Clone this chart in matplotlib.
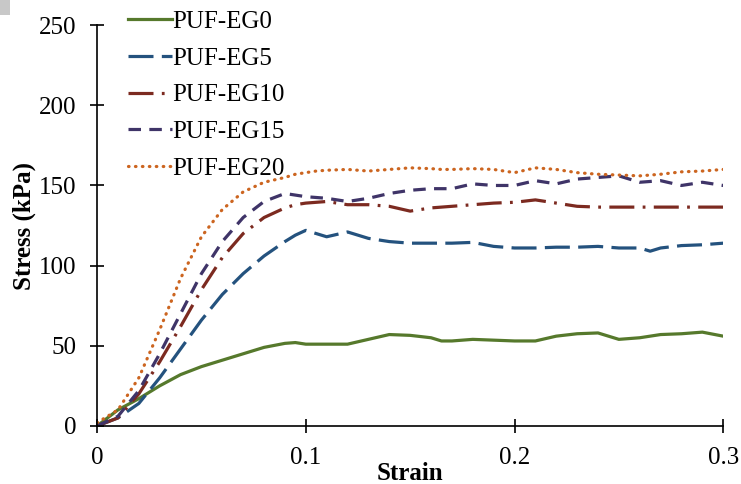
import matplotlib
matplotlib.use("Agg")
from matplotlib import pyplot as plt
from matplotlib.patches import Rectangle

# Data (strain vs stress in kPa)
strain = [0.0, 0.01, 0.02, 0.03, 0.04, 0.05, 0.06, 0.07, 0.08, 0.09, 0.095, 0.1, 0.105,
          0.11, 0.12, 0.13, 0.14, 0.15, 0.16, 0.165, 0.17, 0.18, 0.19, 0.2, 0.21, 0.22,
          0.23, 0.24, 0.25, 0.26, 0.265, 0.27, 0.28, 0.29, 0.3]

eg0 = [0, 10, 17, 25, 32, 37, 41, 45, 49, 51.5, 52, 51, 51,
       51, 51, 54, 57, 56.5, 55, 53, 53, 54, 53.5, 53, 53, 56,
       57.5, 58, 54, 55, 56, 57, 57.5, 58.5, 56]
eg5 = [0, 5, 14, 30, 48, 66, 82, 95, 106, 115, 119, 122, 120,
       118, 121, 117, 115, 114, 114, 114, 114, 114.5, 112, 111, 111, 111.5,
       111.5, 112, 111, 111, 109, 111, 112.5, 113, 114]
eg10 = [0, 5, 20, 40, 62, 85, 105, 120, 130, 136, 138, 139, 139.5,
        140, 138, 138, 137, 134, 136, 136.5, 137, 138, 139, 139.5, 141, 139,
        137, 136.5, 136.5, 136.5, 136.5, 136.5, 136.5, 136.5, 136.5]
eg15 = [0, 6, 22, 45, 70, 95, 115, 130, 140, 145, 144, 143, 142.5,
        142, 140, 142, 145, 147, 148, 148, 148, 151, 150, 150, 153, 151,
        154, 155, 156, 152, 152.5, 153, 150, 152, 150]
eg20 = [2, 10, 30, 60, 92, 118, 135, 146, 152, 155, 157, 158, 159,
        159.5, 160, 159, 160, 161, 160.5, 160, 160, 160.5, 160, 158, 161, 160,
        158, 157, 156.5, 156, 156.5, 157, 158.5, 159, 160]

labels = ["PUF-EG0", "PUF-EG5", "PUF-EG10", "PUF-EG15", "PUF-EG20"]
series = [eg0, eg5, eg10, eg15, eg20]
colors = ["#56792c", "#24527e", "#7c2a20", "#3f3468", "#cc6520"]
dashes = [None, (18, 6), (18, 6, 2, 6), (9, 6), (0.4, 4.6)]

plt.rcParams["font.family"] = ["Liberation Serif", "DejaVu Serif"]
plt.rcParams["lines.scale_dashes"] = False

fig = plt.figure(figsize=(7.41, 4.84), dpi=100)
ax = fig.add_axes([0.131, 0.12, 0.845, 0.828])

for y, lab, c, d in zip(series, labels, colors, dashes):
    if d is None:
        ax.plot(strain, y, color=c, lw=2.3, label=lab)
    else:
        ax.plot(strain, y, color=c, lw=2.3, label=lab, dashes=d,
                dash_capstyle="round" if d[0] < 1 else "butt")

ax.set_xlim(0, 0.3)
ax.set_ylim(0, 250)
ax.set_xticks([0, 0.1, 0.2, 0.3])
ax.set_xticklabels(["0", "0.1", "0.2", "0.3"])
ax.set_yticks([0, 50, 100, 150, 200, 250])

for side in ["top", "right"]:
    ax.spines[side].set_visible(False)
for side in ["left", "bottom"]:
    ax.spines[side].set_linewidth(1.2)
ax.tick_params(direction="inout", length=10, width=1.2, labelsize=18, colors="black")
ax.tick_params(axis="x", pad=10)
ax.tick_params(axis="y", pad=10)

ax.set_xlabel("Strain", fontsize=18, fontweight="bold", labelpad=-5)
ax.set_ylabel("Stress (kPa)", fontsize=18, fontweight="bold", labelpad=2)

ax.legend(loc="upper left", bbox_to_anchor=(0.05, 1.037), frameon=False, fontsize=18,
          handlelength=1.75, handletextpad=0.0, labelspacing=0.57, borderaxespad=0,
          borderpad=0)

# small grey block in the corner of the original image
fig.patches.append(Rectangle((0, 0.97), 0.013, 0.03, transform=fig.transFigure,
                             facecolor="#c8c8c8", edgecolor="none"))

plt.savefig("out.png", dpi=100)
plt.close()
